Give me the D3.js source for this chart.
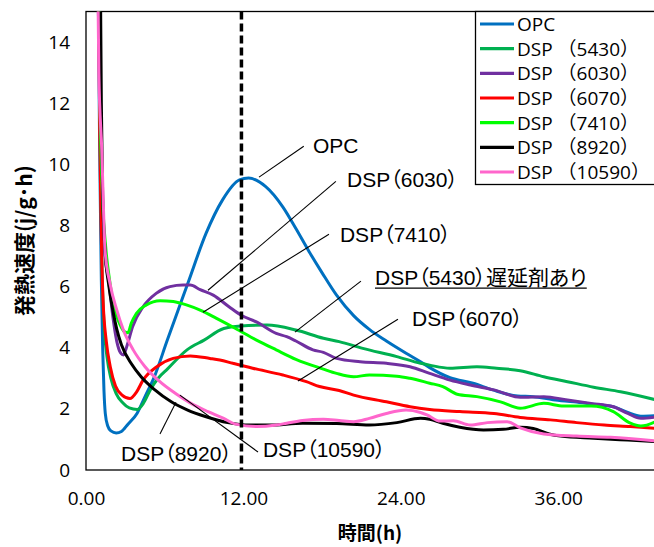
<!DOCTYPE html>
<html>
<head>
<meta charset="utf-8">
<script src="https://cdn.jsdelivr.net/npm/d3@7"></script>
<style>
  html, body { margin: 0; padding: 0; background: #fff; }
  svg { display: block; }
</style>
</head>
<body>
<script>
// Heat-release rate of OPC and DSP pastes over time (hours vs j/g·h)

const seriesNames = ["OPC", "DSP （5430）", "DSP （6030）", "DSP （6070）", "DSP （7410）", "DSP （8920）", "DSP （10590）"];
const seriesColors = ["#0070C0", "#00B050", "#7030A0", "#FF0000", "#00FF00", "#000000", "#FF66CC"];

// [hour, rate] pairs
const opc = [[0.9,17],[0.97,14],[1.03,11],[1.1,8.5],[1.17,6.2],[1.27,4],[1.37,2.6],[1.47,1.85],[1.65,1.45],[1.9,1.28],[2.3,1.21],[2.7,1.26],[3.2,1.5],[3.9,1.86],[4.5,2.4],[5.2,3.04],[6.2,4.25],[7.0,5.2],[7.8,6.15],[9.15,7.74],[10.4,8.83],[11.7,9.49],[12.4,9.55],[13.7,9.27],[15.0,8.61],[16.0,7.9],[17.0,7.15],[18.0,6.45],[19.1,5.72],[20.4,5.05],[21.6,4.6],[22.9,4.22],[24.4,3.82],[25.5,3.54],[26.2,3.35],[27.75,3.02],[29.5,2.84],[31.0,2.62],[32.9,2.42],[34.1,2.4],[35.6,2.3],[37.2,2.23],[38.7,2.15],[40.2,2.07],[41.3,1.88],[42.3,1.76],[43.5,1.78]];
const dsp5430 = [[1.0,16],[1.08,11],[1.2,7],[1.4,4.6],[1.6,3.7],[1.9,3.0],[2.3,2.5],[2.8,2.2],[3.3,2.03],[3.9,1.98],[4.4,2.2],[4.9,2.62],[5.5,3.0],[6.2,3.3],[7.7,3.93],[9.0,4.25],[10.5,4.63],[11.8,4.71],[13.8,4.74],[16.0,4.58],[18.1,4.31],[19.3,4.2],[21.1,3.98],[23.7,3.71],[25.5,3.49],[26.2,3.43],[27.75,3.33],[29.8,3.38],[31.3,3.33],[33.1,3.25],[34.9,3.05],[36.7,2.89],[38.7,2.71],[40.75,2.56],[43.5,2.29]];
const dsp6030 = [[0.95,16],[1.05,12],[1.2,9],[1.45,7],[1.73,6.2],[2.05,5.0],[2.35,4.2],[2.65,3.82],[2.85,3.76],[3.15,4.1],[3.55,4.69],[4.35,5.34],[5.35,5.78],[6.4,6.0],[7.4,6.05],[7.95,6.05],[8.7,5.9],[9.7,5.72],[10.9,5.34],[11.8,5.07],[13.1,4.82],[14.5,4.47],[15.3,4.36],[16.0,4.22],[17.3,3.93],[18.1,3.85],[19.1,3.65],[20.9,3.54],[22.9,3.49],[24.7,3.38],[26.2,3.16],[27.75,2.94],[29.3,2.78],[31.1,2.62],[33.1,2.38],[34.9,2.4],[36.7,2.29],[38.5,2.18],[40.2,2.07],[41.3,1.85],[42.3,1.69],[43.5,1.74]];
const dsp6070 = [[0.95,16],[1.05,11],[1.15,8],[1.3,5.56],[1.55,4.2],[1.85,3.38],[2.25,2.75],[2.75,2.45],[3.35,2.34],[3.85,2.55],[4.35,2.94],[5.4,3.38],[6.65,3.65],[7.95,3.73],[9.45,3.65],[10.2,3.6],[11.2,3.49],[12.7,3.33],[15.0,3.11],[16.8,2.89],[17.8,2.73],[19.3,2.6],[20.4,2.45],[22.9,2.23],[24.7,2.07],[26.2,1.98],[28.5,1.91],[31.1,1.85],[33.1,1.72],[35.4,1.64],[37.4,1.55],[39.5,1.47],[41.5,1.42],[43.5,1.36]];
const dsp7410 = [[0.97,16],[1.07,12],[1.25,9],[1.5,7.3],[1.8,6.2],[2.15,5.3],[2.55,4.8],[2.95,4.52],[3.2,4.49],[3.45,4.8],[3.85,5.13],[4.6,5.4],[5.65,5.54],[6.65,5.51],[7.65,5.4],[8.7,5.23],[9.95,4.96],[11.4,4.63],[13.0,4.25],[14.5,3.93],[16.0,3.62],[18.1,3.3],[19.1,3.16],[20.4,3.05],[21.6,3.11],[23.7,3.07],[24.7,3.0],[26.2,2.84],[27.2,2.73],[28.3,2.48],[29.8,2.4],[31.6,2.23],[33.1,2.02],[34.9,2.18],[36.4,2.09],[38.5,2.09],[40.2,1.91],[41.5,1.53],[42.3,1.44],[43.5,1.6]];
const dsp8920 = [[1.1,16],[1.17,12],[1.27,9],[1.45,7.2],[1.75,6.0],[2.1,5.1],[2.35,4.6],[2.7,4.1],[3.5,3.45],[4.2,3.05],[5.25,2.62],[6.5,2.23],[7.75,1.96],[9.1,1.75],[10.8,1.55],[12.5,1.47],[14.0,1.47],[16.5,1.53],[19.1,1.52],[21.6,1.47],[23.7,1.55],[25.5,1.69],[26.2,1.66],[27.2,1.53],[28.5,1.4],[30.3,1.31],[31.8,1.33],[33.1,1.4],[34.1,1.36],[35.3,1.18],[36.2,1.11],[38.7,1.04],[41.3,0.98],[43.5,0.93]];
const dsp10590 = [[0.9,16],[0.98,13],[1.2,10.5],[1.45,7.2],[1.83,6.1],[2.35,5.23],[2.85,4.58],[3.6,3.93],[4.5,3.38],[5.5,2.94],[6.8,2.51],[8.0,2.18],[9.3,1.91],[10.5,1.69],[11.4,1.5],[13.0,1.42],[14.5,1.47],[15.3,1.53],[16.5,1.62],[18.1,1.66],[19.3,1.62],[20.4,1.58],[21.6,1.69],[22.9,1.85],[24.4,1.96],[25.5,1.88],[26.0,1.8],[27.0,1.6],[28.0,1.61],[29.3,1.47],[30.6,1.55],[32.1,1.58],[33.1,1.38],[34.9,1.18],[37.4,1.11],[40.0,1.07],[43.5,0.95]];

const seriesData = [opc, dsp5430, dsp6030, dsp6070, dsp7410, dsp8920, dsp10590];

const xTicks = [0, 12, 24, 36];
const yTicks = [0, 2, 4, 6, 8, 10, 12, 14];
const xTitle = "時間(h)";
const yTitle = "発熱速度(j/g･h)";
const guideHour = 11.85;

// callout labels: text anchor and leader line, in (hour, rate)
const callouts = [
  { text: "OPC",                   at: [17.3, 10.36], from: [13.19, 9.58], to: [16.6, 10.59] },
  { text: "DSP（6030）",            at: [19.9, 9.25],  from: [9.3, 5.88],   to: [19.05, 9.44] },
  { text: "DSP（7410）",            at: [19.36, 7.47], from: [8.92, 5.16],  to: [18.52, 7.71] },
  { text: "DSP（5430）遅延剤あり",   at: [22.03, 6.05], from: [15.93, 4.51], to: [20.96, 6.18], underline: true },
  { text: "DSP（6070）",            at: [24.85, 4.71], from: [16.16, 2.91], to: [23.78, 4.93] },
  { text: "DSP（8920）",            at: [2.67, 0.29],  from: [5.64, 1.18],  to: [6.86, 2.22] },
  { text: "DSP（10590）",           at: [13.49, 0.42], from: [7.16, 2.45],  to: [13.11, 0.59] }
];

const W = 654, H = 547;
const plot = { left: 86, top: 11.5, right: 654, bottom: 470 };

const x = d3.scaleLinear().domain([0, 43.3]).range([plot.left, plot.right]);
const y = d3.scaleLinear().domain([0, 15]).range([plot.bottom, plot.top]);

const svg = d3.select("body").append("svg")
  .attr("width", W).attr("height", H)
  .attr("viewBox", `0 0 ${W} ${H}`);

const latinFont = "'Open Sans', 'Noto Sans CJK JP', sans-serif";
const calloutFont = "'Liberation Sans', 'Noto Sans CJK JP', sans-serif";
const titleFont = "'Noto Sans CJK JP', sans-serif";

svg.append("defs").append("clipPath").attr("id", "plotClip")
  .append("rect")
  .attr("x", plot.left).attr("y", plot.top)
  .attr("width", plot.right - plot.left).attr("height", plot.bottom - plot.top);

// plot frame
svg.append("rect")
  .attr("x", plot.left).attr("y", plot.top)
  .attr("width", plot.right - plot.left + 2).attr("height", plot.bottom - plot.top)
  .attr("fill", "none").attr("stroke", "#000").attr("stroke-width", 1.3);

// axes (labels only)
const xAxis = svg.append("g")
  .attr("transform", `translate(0,${plot.bottom})`)
  .call(d3.axisBottom(x).tickValues(xTicks).tickFormat(d3.format(".2f")).tickSize(0).tickPadding(22));
xAxis.select(".domain").remove();
xAxis.selectAll("text").attr("font-family", latinFont).attr("font-size", 19).attr("fill", "#000");

const yAxis = svg.append("g")
  .attr("transform", `translate(${plot.left},0)`)
  .call(d3.axisLeft(y).tickValues(yTicks).tickFormat(d3.format("d")).tickSize(0).tickPadding(16));
yAxis.select(".domain").remove();
yAxis.selectAll("text").attr("font-family", latinFont).attr("font-size", 19).attr("fill", "#000");

// axis titles
svg.append("text")
  .attr("x", (plot.left + plot.right) / 2).attr("y", 540)
  .attr("text-anchor", "middle")
  .attr("font-family", titleFont).attr("font-weight", "bold").attr("font-size", 19)
  .text(xTitle);

svg.append("text")
  .attr("transform", `translate(32,${(plot.top + plot.bottom) / 2}) rotate(-90)`)
  .attr("text-anchor", "middle")
  .attr("font-family", titleFont).attr("font-weight", "bold").attr("font-size", 21)
  .text(yTitle);

// series
const line = d3.line()
  .x(d => x(d[0]))
  .y(d => y(d[1]))
  .curve(d3.curveMonotoneX);

const curves = svg.append("g").attr("clip-path", "url(#plotClip)");
seriesData.forEach((data, i) => {
  curves.append("path")
    .datum(data)
    .attr("d", line)
    .attr("fill", "none")
    .attr("stroke", seriesColors[i])
    .attr("stroke-width", 3)
    .attr("stroke-linejoin", "round");
});

// 12-hour guide
svg.append("line")
  .attr("x1", x(guideHour)).attr("x2", x(guideHour))
  .attr("y1", y(15)).attr("y2", y(0))
  .attr("stroke", "#000").attr("stroke-width", 3.5)
  .attr("stroke-dasharray", "8,4");

// callouts
const co = svg.append("g");
callouts.forEach(c => {
  co.append("line")
    .attr("x1", x(c.from[0])).attr("y1", y(c.from[1]))
    .attr("x2", x(c.to[0])).attr("y2", y(c.to[1]))
    .attr("stroke", "#000").attr("stroke-width", 1.1);
  const t = co.append("text")
    .attr("x", x(c.at[0])).attr("y", y(c.at[1]))
    .attr("font-family", calloutFont).attr("font-size", 21)
    .style("font-feature-settings", "'palt'")
    .attr("fill", "#000")
    .text(c.text);
  if (c.underline) {
    const bb = t.node().getBBox();
    co.append("line")
      .attr("x1", bb.x).attr("x2", bb.x + bb.width)
      .attr("y1", y(c.at[1]) + 3).attr("y2", y(c.at[1]) + 3)
      .attr("stroke", "#000").attr("stroke-width", 1.2);
  }
});

// legend
const legend = svg.append("g");
legend.append("rect")
  .attr("x", 475.5).attr("y", plot.top)
  .attr("width", 200).attr("height", 173)
  .attr("fill", "#fff").attr("stroke", "#000").attr("stroke-width", 1.3);

const ly = d3.scalePoint().domain(seriesNames).range([24, 172]);
seriesNames.forEach((name, i) => {
  legend.append("line")
    .attr("x1", 480).attr("x2", 514)
    .attr("y1", ly(name)).attr("y2", ly(name))
    .attr("stroke", seriesColors[i]).attr("stroke-width", 3.2);
  legend.append("text")
    .attr("x", 517).attr("y", ly(name))
    .attr("dy", "0.36em")
    .attr("font-family", latinFont).attr("font-size", 19)
    .attr("fill", "#000")
    .text(name);
});
</script>
</body>
</html>
